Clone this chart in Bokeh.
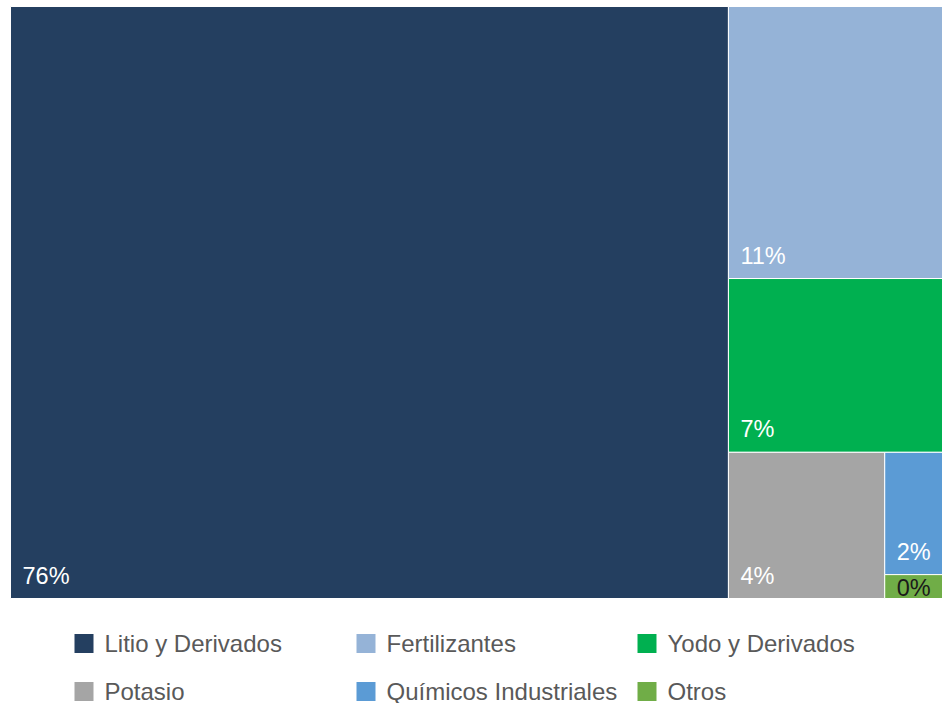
from bokeh.plotting import figure
from bokeh.models import Range1d, ColumnDataSource
from bokeh.core.properties import value
from bokeh.embed import file_html
from bokeh.resources import INLINE

categories = ["Litio y Derivados", "Fertilizantes", "Yodo y Derivados",
              "Potasio", "Químicos Industriales", "Otros"]
shares = [77.0, 10.55, 6.74, 4.14, 1.28, 0.25]
pct_labels = ["76%", "11%", "7%", "4%", "2%", "0%"]
colors = ["#243F60", "#95B3D7", "#00B050", "#A5A5A5", "#5B9BD5", "#70AD47"]
label_colors = ["white", "white", "white", "white", "white", "#1a1a1a"]

# ---- squarified treemap layout ----
def worst(row, w):
    s = sum(row)
    return max(max(w * w * r / (s * s), (s * s) / (w * w * r)) for r in row)

def squarify(vals, x, y, dx, dy):
    total = sum(vals)
    areas = [v / total * dx * dy for v in vals]
    rects = []
    while areas:
        w = min(dx, dy)
        row = [areas[0]]
        i = 1
        while i < len(areas) and worst(row + [areas[i]], w) <= worst(row, w):
            row.append(areas[i])
            i += 1
        s = sum(row)
        if dx >= dy:  # column on the left
            cw = s / dy
            yy = y
            for a in row:
                h = a / cw
                rects.append((x, yy, cw, h))
                yy += h
            x += cw
            dx -= cw
        else:  # row along the top
            rh = s / dx
            xx = x
            for a in row:
                ww = a / rh
                rects.append((xx, y, ww, rh))
                xx += ww
            y += rh
            dy -= rh
        areas = areas[i:]
    return rects

FIG_W, FIG_H = 942, 703
p = figure(width=FIG_W, height=FIG_H, output_backend="svg", toolbar_location=None,
           x_range=Range1d(0, FIG_W), y_range=Range1d(FIG_H, 0),
           x_axis_type=None, y_axis_type=None, min_border=0,
           outline_line_color=None, background_fill_color="white")
p.xgrid.visible = False
p.ygrid.visible = False

rects = squarify(shares, 10, 6, 932, 592)
left = [r[0] for r in rects]
top = [r[1] for r in rects]
right = [r[0] + r[2] for r in rects]
bottom = [r[1] + r[3] for r in rects]

src = ColumnDataSource(dict(left=left, right=right, top=top, bottom=bottom, color=colors))
p.quad(left="left", right="right", top="top", bottom="bottom", fill_color="color",
       line_color="white", line_width=1, source=src)

lx = [l + 12 for l in left]
ly = [b - (23 if (b - t) > 40 else 11) for t, b in zip(top, bottom)]
p.text(x=lx, y=ly, text=pct_labels, text_color=label_colors,
       text_font=value("Liberation Sans"), text_font_size="23.5px",
       text_baseline="alphabetic", text_align="left")

# ---- legend ----
col_x = [83.5, 365.5, 646.5]
row_y = [643, 691]
sq_x = [col_x[i % 3] for i in range(6)]
sq_y = [row_y[i // 3] for i in range(6)]
p.rect(x=sq_x, y=sq_y, width=19, height=19, fill_color=colors, line_color=None)
p.text(x=[x + 20.5 for x in sq_x], y=sq_y, text=categories, text_color="#595959",
       text_font=value("Liberation Sans"), text_font_size="24px",
       text_baseline="middle", text_align="left")

open("out.html", "w").write(file_html(p, INLINE))
